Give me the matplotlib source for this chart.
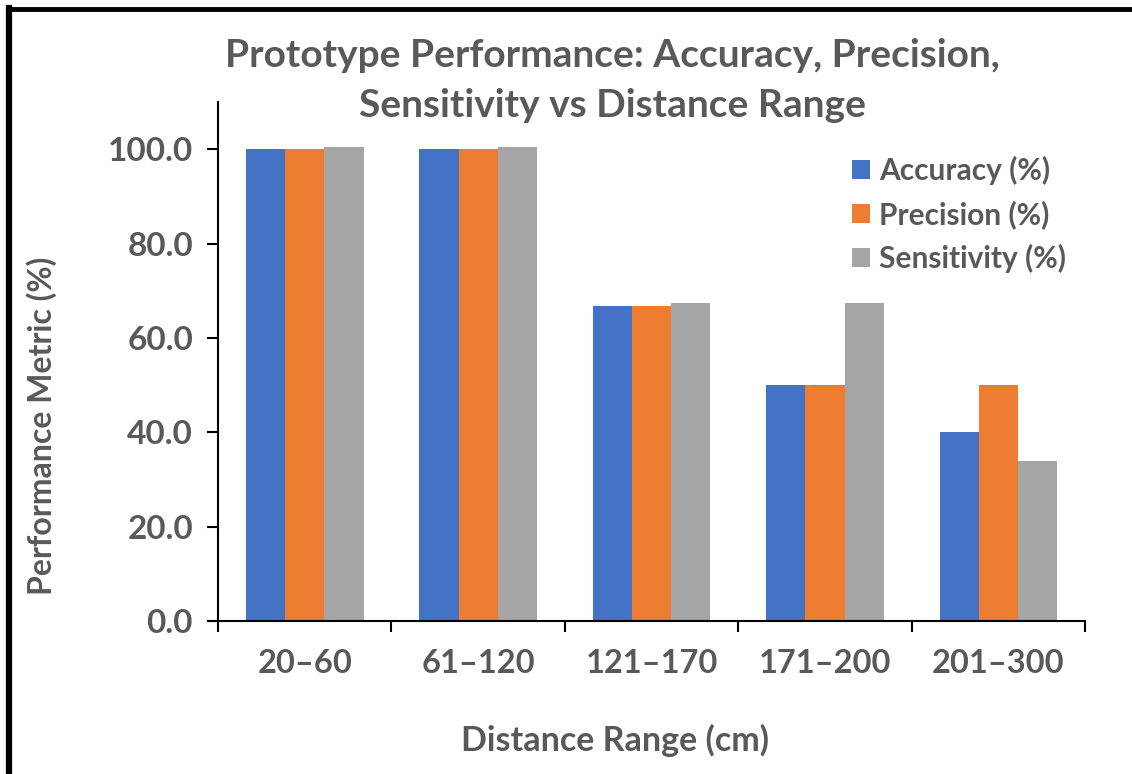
import numpy as np
import matplotlib
matplotlib.use('Agg')
from matplotlib import pyplot as plt
from matplotlib.lines import Line2D

# data
ranges = ['20–60', '61–120', '121–170', '171–200', '201–300']
accuracy = [100.0, 100.0, 66.7, 50.0, 40.0]
precision = [100.0, 100.0, 66.7, 50.0, 50.0]
sensitivity = [100.5, 100.5, 67.3, 67.3, 34.0]
series_names = ['Accuracy (%)', 'Precision (%)', 'Sensitivity (%)']
colors = ['#4472C4', '#ED7D31', '#A5A5A5']
yticks = [0, 20, 40, 60, 80, 100]

grey = '#595959'
plt.rcParams['font.family'] = ['Lato', 'DejaVu Sans']
plt.rcParams['font.weight'] = 'bold'

fig = plt.figure(figsize=(11.32, 7.74), dpi=100)
ax = fig.add_axes([0.1926, 0.1977, 0.766, 0.6705])

x = np.arange(len(ranges))
w = 0.226
for i, vals in enumerate([accuracy, precision, sensitivity]):
    ax.bar(x + (i - 1) * w, vals, w, color=colors[i], label=series_names[i])

ax.set_xlim(-0.5, len(ranges) - 0.5)
ax.set_ylim(0, 110)
ax.set_yticks(yticks)
ax.set_yticklabels(['%.1f' % v for v in yticks])
ax.set_xticks(x)
ax.set_xticklabels(ranges)
ax.set_xticks(np.arange(len(ranges) + 1) - 0.5, minor=True)
ax.tick_params(axis='x', which='major', length=0, pad=20, labelsize=23.5, labelcolor=grey)
ax.tick_params(axis='x', which='minor', length=8, width=1.5, direction='out')
ax.tick_params(axis='y', length=8, width=1.5, pad=10, labelsize=24, labelcolor=grey)
for lab in ax.get_xticklabels() + ax.get_yticklabels():
    lab.set_fontweight('bold')

ax.spines['top'].set_visible(False)
ax.spines['right'].set_visible(False)
ax.spines['left'].set_linewidth(1.5)
ax.spines['bottom'].set_linewidth(1.5)
# x axis line runs a little past the y axis, like Excel
ax.plot([-0.56, -0.5], [0, 0], color='black', lw=1.5, clip_on=False)

fig.text(0.541, 0.928, 'Prototype Performance: Accuracy, Precision,', ha='center', va='center',
         fontsize=28, fontweight='bold', color=grey)
fig.text(0.541, 0.864, 'Sensitivity vs Distance Range', ha='center', va='center',
         fontsize=28, fontweight='bold', color=grey)
fig.text(0.037, 0.45, 'Performance Metric (%)', rotation=90, ha='center', va='center',
         fontsize=23, fontweight='bold', color=grey)
fig.text(0.543, 0.043, 'Distance Range (cm)', ha='center', va='center',
         fontsize=24.5, fontweight='bold', color=grey)

leg = ax.legend(loc='upper left', bbox_to_anchor=(0.714, 0.925), frameon=False,
                fontsize=21.5, handlelength=0.6, handleheight=0.6, handletextpad=0.3,
                labelspacing=0.5, borderpad=0)
for t in leg.get_texts():
    t.set_color(grey)
    t.set_fontweight('bold')

# screenshot frame: top and left black edges
fig.add_artist(Line2D([0.0075, 1.0], [0.9885, 0.9885], color='black', lw=3.5))
fig.add_artist(Line2D([0.0083, 0.0083], [0.0, 0.99], color='black', lw=4.5))

fig.savefig('out.png', dpi=100)
